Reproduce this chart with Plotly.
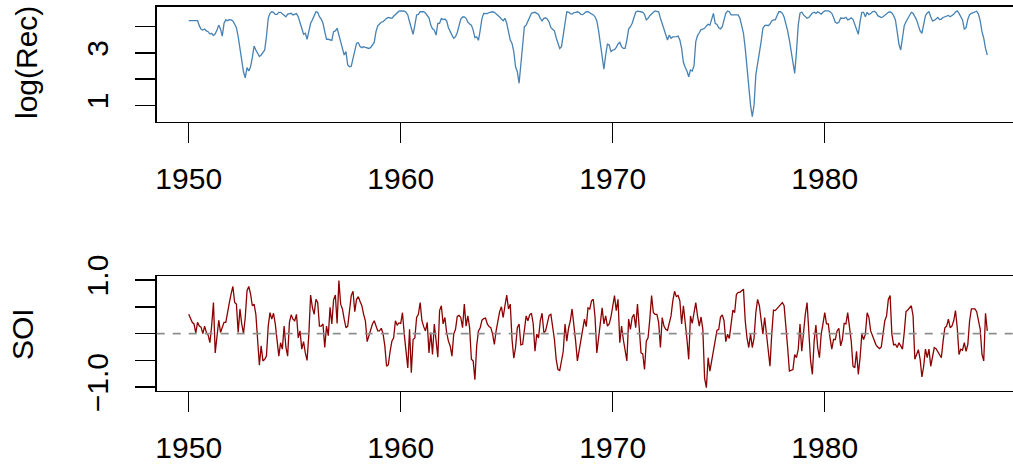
import plotly.graph_objects as go

# ---- data ----
start_year = 1950
months_per_year = 12

log_rec = [
    4.23, 4.23, 4.23, 4.23, 4.23, 4.23,
    4.04, 3.90, 3.87, 3.91, 3.84, 3.81,
    3.72, 3.75, 3.66, 3.73, 3.87, 4.06,
    3.91, 3.64, 4.13, 4.26, 4.23, 4.27,
    4.26, 4.22, 4.10, 3.96, 3.62, 3.17,
    2.54, 2.28, 2.05, 2.44, 2.31, 2.47,
    2.82, 3.26, 3.11, 2.98, 2.86, 2.92,
    3.01, 3.11, 3.62, 4.32, 4.51, 4.57,
    4.55, 4.47, 4.47, 4.55, 4.55, 4.50,
    4.45, 4.38, 4.48, 4.51, 4.51, 4.45,
    4.47, 4.50, 4.38, 4.19, 3.94, 3.71,
    3.75, 3.52, 3.81, 4.13, 4.26, 4.45,
    4.57, 4.55, 4.38, 4.29, 4.13, 3.81,
    3.52, 3.52, 3.50, 3.48, 3.81, 3.84,
    3.94, 3.71, 3.43, 3.17, 2.92, 3.05,
    2.54, 2.47, 2.49, 2.79, 3.11, 3.37,
    3.39, 3.24, 3.20, 3.24, 3.21, 3.20,
    3.17, 3.21, 3.30, 3.40, 3.81, 4.03,
    4.10, 4.17, 4.19, 4.26, 4.32, 4.35,
    4.33, 4.32, 4.40, 4.47, 4.55, 4.59,
    4.60, 4.60, 4.59, 4.55, 4.45, 4.19,
    3.91, 3.71, 4.06, 4.45, 4.47, 4.57,
    4.57, 4.57, 4.52, 4.41, 4.34, 4.06,
    3.92, 3.87, 3.68, 4.13, 4.13, 4.31,
    4.27, 4.29, 4.22, 3.96, 3.78, 3.68,
    3.56, 3.62, 3.78, 4.04, 4.29, 4.37,
    4.37, 4.32, 4.17, 4.10, 4.06, 3.87,
    3.58, 3.61, 3.48, 3.87, 4.32, 4.51,
    4.51, 4.50, 4.54, 4.57, 4.57, 4.55,
    4.50, 4.42, 4.37, 4.29, 4.23, 4.32,
    4.13, 3.81, 3.49, 3.36, 3.05, 2.47,
    2.28, 1.84, 2.54, 3.49, 4.00, 4.06,
    4.19, 4.34, 4.51, 4.54, 4.55, 4.51,
    4.47, 4.32, 4.22, 4.32, 4.34, 4.29,
    4.17, 3.96, 3.90, 3.84, 3.58, 3.40,
    3.17, 3.24, 3.68, 4.19, 4.57, 4.56,
    4.50, 4.48, 4.54, 4.55, 4.57, 4.54,
    4.47, 4.46, 4.52, 4.57, 4.57, 4.54,
    4.48, 4.45, 4.38, 4.22, 3.84, 3.33,
    2.73, 2.38, 2.92, 3.33, 3.30, 3.05,
    3.11, 3.12, 3.21, 3.34, 3.40, 3.24,
    3.17, 3.17, 3.49, 3.91, 4.00, 4.13,
    4.34, 4.55, 4.59, 4.59, 4.57, 4.55,
    4.47, 4.26, 4.32, 4.42, 4.50, 4.55,
    4.60, 4.59, 4.57, 4.32, 4.10, 3.91,
    3.62, 3.49, 3.68, 3.56, 3.61, 3.61,
    3.62, 3.64, 3.49, 3.17, 2.64, 2.45,
    2.31, 2.09, 2.35, 2.31, 2.51, 3.43,
    3.66, 3.77, 3.89, 3.91, 3.94, 4.03,
    4.09, 4.06, 4.26, 4.51, 4.13, 4.09,
    3.96, 3.92, 4.00, 4.32, 4.51, 4.60,
    4.57, 4.45, 4.45, 4.47, 4.47, 4.45,
    4.32, 4.06, 3.75, 3.17, 2.41, 1.65,
    1.01, 0.57, 1.01, 2.16, 2.56, 2.98,
    3.43, 3.94, 4.04, 4.06, 4.04, 4.10,
    4.22, 4.26, 4.26, 4.42, 4.57, 4.57,
    4.51, 4.37, 4.13, 3.84, 3.49, 3.07,
    2.54, 2.22, 3.05, 4.06, 4.52, 4.56,
    4.45, 4.40, 4.32, 4.35, 4.45, 4.52,
    4.55, 4.51, 4.57, 4.52, 4.48, 4.55,
    4.60, 4.60, 4.60, 4.57, 4.51, 4.35,
    4.17, 4.13, 4.17, 4.33, 4.32, 4.32,
    4.36, 4.26, 4.29, 4.34, 4.28, 4.10,
    3.85, 3.71, 4.19, 4.55, 4.55, 4.38,
    4.55, 4.46, 4.50, 4.57, 4.59, 4.54,
    4.42, 4.37, 4.35, 4.38, 4.45, 4.51,
    4.55, 4.57, 4.52, 4.42, 4.26, 3.81,
    3.33, 3.11, 3.68, 4.04, 4.19, 4.32,
    4.45, 4.55, 4.51, 4.38, 4.26, 4.04,
    3.84, 3.75, 4.17, 4.42, 4.52, 4.57,
    4.38, 4.22, 4.24, 4.28, 4.35, 4.27,
    4.29, 4.35, 4.38, 4.40, 4.43, 4.38,
    4.43, 4.47, 4.56, 4.60, 4.51, 4.38,
    4.26, 3.91, 3.96, 4.29, 4.46, 4.51,
    4.54, 4.57, 4.59, 4.48, 4.22, 3.81,
    3.56, 3.17, 2.92,
]

soi = [
    0.36, 0.27, 0.21, 0.18, 0.01, 0.21,
    0.14, 0.12, 0.00, 0.14, 0.02, -0.03,
    -0.17, 0.15, 0.58, -0.36, -0.08, 0.25,
    0.02, 0.11, 0.21, 0.21, 0.43, 0.58,
    0.74, 0.88, 0.58, 0.55, 0.02, 0.46,
    0.18, 0.00, 0.30, 0.80, 0.88, 0.74,
    0.52, 0.55, 0.36, -0.20, -0.59, -0.23,
    -0.51, -0.48, -0.42, 0.14, 0.39, 0.27,
    0.38, 0.18, -0.11, -0.42, -0.17, -0.29,
    0.14, -0.25, -0.42, 0.21, 0.35, 0.27,
    0.24, 0.36, -0.08, 0.05, -0.29, -0.15,
    -0.36, -0.50, -0.01, 0.72, 0.49, 0.36,
    0.64, 0.58, 0.14, 0.14, 0.18, -0.26,
    0.14, -0.04, 0.49, 0.18, 0.63, 0.72,
    0.19, 0.99, 0.55, 0.46, 0.27, 0.11,
    0.14, 0.39, 0.71, 0.79, 0.41, 0.64,
    0.69, 0.60, 0.52, 0.36, 0.24, -0.15,
    -0.04, 0.06, 0.18, 0.24, 0.13, 0.05,
    0.05, 0.10, 0.00, -0.23, -0.61, -0.58,
    -0.33, -0.14, -0.08, 0.24, 0.16, 0.20,
    0.19, 0.39, -0.01, -0.39, -0.64, 0.08,
    -0.73, -0.11, -0.08, 0.30, 0.36, 0.58,
    0.24, 0.13, 0.05, 0.21, -0.36, 0.02,
    -0.39, 0.18, -0.14, -0.44, 0.43, 0.52,
    0.18, 0.30, 0.02, -0.14, -0.23, -0.42,
    -0.01, 0.08, 0.32, 0.34, 0.30, 0.11,
    0.55, 0.14, 0.33, 0.11, -0.48, -0.51,
    -0.86, -0.23, 0.05, 0.11, 0.25, 0.28,
    0.29, 0.18, 0.13, 0.11, -0.01, -0.20,
    0.05, 0.24, 0.41, 0.50, 0.30, 0.52,
    0.72, 0.46, 0.55, -0.11, -0.46, -0.26,
    0.11, 0.18, -0.21, -0.20, 0.05, 0.33,
    0.24, 0.35, 0.38, 0.18, -0.33, -0.01,
    -0.08, 0.24, 0.38, 0.02, 0.05, 0.18,
    0.34, 0.36, 0.11, -0.11, -0.48, -0.67,
    -0.69, -0.48, -0.33, 0.18, -0.14, 0.10,
    0.24, 0.46, 0.08, -0.14, -0.51, -0.33,
    -0.11, 0.05, 0.27, 0.13, 0.48, 0.46,
    0.61, 0.64, 0.30, -0.36, -0.05, 0.24,
    0.48, 0.18, 0.33, 0.14, 0.18, 0.31,
    0.55, 0.71, 0.43, 0.64, -0.17, 0.14,
    -0.11, -0.33, -0.51, 0.27, 0.08, 0.30,
    0.36, 0.11, 0.55, 0.11, -0.36, -0.38,
    -0.67, -0.14, -0.08, 0.27, 0.71, 0.39,
    0.36, 0.36, 0.21, -0.26, 0.30, 0.14,
    0.08, 0.06, 0.18, 0.33, 0.61, 0.79,
    0.69, 0.71, 0.61, 0.18, 0.52, 0.24,
    -0.10, -0.48, 0.33, 0.19, 0.36, 0.58,
    0.33, 0.14, 0.31, 0.08, -0.83, -1.01,
    -0.45, -0.70, -0.51, -0.33, -0.11, 0.06,
    0.08, 0.31, 0.35, 0.24, -0.15, -0.01,
    -0.09, 0.14, 0.44, 0.39, 0.73, 0.77,
    0.77, 0.80, 0.83, 0.24, -0.08, -0.26,
    -0.01, -0.26, -0.08, 0.39, 0.64, 0.52,
    0.30, -0.01, 0.30, 0.02, -0.33, -0.61,
    -0.01, 0.44, 0.43, 0.47, 0.52, 0.56,
    0.58, 0.52, 0.18, -0.26, -0.70, -0.69,
    -0.67, -0.39, -0.45, -0.29, 0.18, -0.33,
    0.08, 0.36, 0.58, 0.05, -0.51, -0.76,
    -0.14, 0.16, -0.26, -0.45, -0.01, 0.18,
    0.39, 0.18, 0.18, -0.08, -0.29, -0.11,
    -0.11, 0.05, 0.10, -0.23, -0.11, 0.19,
    0.18, 0.39, 0.14, -0.14, -0.61, -0.64,
    -0.33, -0.76, -0.45, -0.01, -0.11, -0.01,
    0.39, 0.30, 0.05, -0.04, -0.14, -0.21,
    -0.25, -0.28, -0.25, -0.01, 0.24, 0.33,
    0.64, 0.71, -0.01, -0.21, -0.20, -0.26,
    -0.17, -0.23, -0.29, 0.02, 0.41, 0.44,
    0.49, 0.52, 0.33, -0.48, -0.39, -0.30,
    -0.48, -0.81, -0.61, -0.29, -0.45, -0.29,
    -0.61, -0.45, -0.26, -0.28, -0.33, -0.38,
    -0.45, -0.14, 0.11, 0.14, 0.27, 0.11,
    0.14, 0.24, 0.43, 0.11, -0.39, -0.29,
    -0.31, -0.17, -0.33, -0.20, 0.24, 0.46,
    0.46, 0.46, 0.41, 0.25, 0.08, -0.39,
    -0.51, 0.38, 0.05,
]

year_ticks = [1950, 1960, 1970, 1980]
year_labels = ["1950", "1960", "1970", "1980"]
rec_ticks = [1, 2, 3, 4]
rec_labels = ["1", "", "3", ""]
soi_ticks = [-1.0, -0.5, 0.0, 0.5, 1.0]
soi_labels = ["\u22121.0", "", "", "", "1.0"]

time = [start_year + k / months_per_year for k in range(len(log_rec))]

# ---- figure ----
W, H = 1013, 468
FONT = "Liberation Sans, Arial, Helvetica, sans-serif"


def px_x(p):
    return p / W


def px_y(p):
    return 1 - p / H


fig = go.Figure()
fig.add_trace(go.Scatter(x=time, y=log_rec, mode="lines",
                         line=dict(color="#4682B4", width=1.3),
                         xaxis="x", yaxis="y", showlegend=False,
                         hoverinfo="skip"))
fig.add_trace(go.Scatter(x=time, y=soi, mode="lines",
                         line=dict(color="#8B0000", width=1.3),
                         xaxis="x2", yaxis="y2", showlegend=False,
                         hoverinfo="skip"))

xrange_ = [1948.49, 1988.88]
common_x = dict(range=xrange_, tickmode="array", tickvals=year_ticks,
                ticktext=year_labels, ticks="outside", ticklen=20,
                tickwidth=1.4, tickcolor="black", showline=True,
                linecolor="black", linewidth=1.4, mirror=True,
                showgrid=False, zeroline=False, automargin=False,
                tickfont=dict(family=FONT, size=30, color="black"),
                ticklabelstandoff=10)
common_y = dict(tickmode="array", ticks="outside", ticklen=20,
                tickwidth=1.4, tickcolor="black", showline=True,
                linecolor="black", linewidth=1.4, showgrid=False,
                zeroline=False, tickangle=-90, automargin=False,
                tickfont=dict(family=FONT, size=30, color="black"),
                ticklabelstandoff=15)

fig.update_layout(
    template="none",
    width=W, height=H,
    margin=dict(l=0, r=0, t=0, b=0, pad=0),
    paper_bgcolor="white", plot_bgcolor="white",
    xaxis=dict(domain=[px_x(156.7), 1.0], anchor="y", **common_x),
    yaxis=dict(domain=[px_y(122), px_y(6.7)], anchor="x",
               range=[0.363, 4.763], tickvals=rec_ticks,
               ticktext=rec_labels, **common_y),
    xaxis2=dict(domain=[px_x(156.7), 1.0], anchor="y2", **common_x),
    yaxis2=dict(domain=[px_y(390.5), px_y(276)], anchor="x2",
                range=[-1.062, 1.075], tickvals=soi_ticks,
                ticktext=soi_labels, **common_y),
    shapes=[dict(type="line", xref="x2 domain", x0=0, x1=1,
                 yref="y2", y0=0, y1=0,
                 line=dict(color="#8F8F8F", width=1.6, dash="8px,8px"))],
    annotations=[
        dict(text="log(Rec)", x=px_x(27), y=px_y(63), xref="paper",
             yref="paper", xanchor="center", yanchor="middle",
             showarrow=False, textangle=-90,
             font=dict(family=FONT, size=30, color="black")),
        dict(text="SOI", x=px_x(22), y=px_y(334), xref="paper",
             yref="paper", xanchor="center", yanchor="middle",
             showarrow=False, textangle=-90,
             font=dict(family=FONT, size=30, color="black")),
    ],
)

fig.write_html(
    "out.html",
    config={"displayModeBar": False, "staticPlot": True},
    post_script="document.body.style.margin='0px';"
                "document.body.style.overflow='hidden';",
)
